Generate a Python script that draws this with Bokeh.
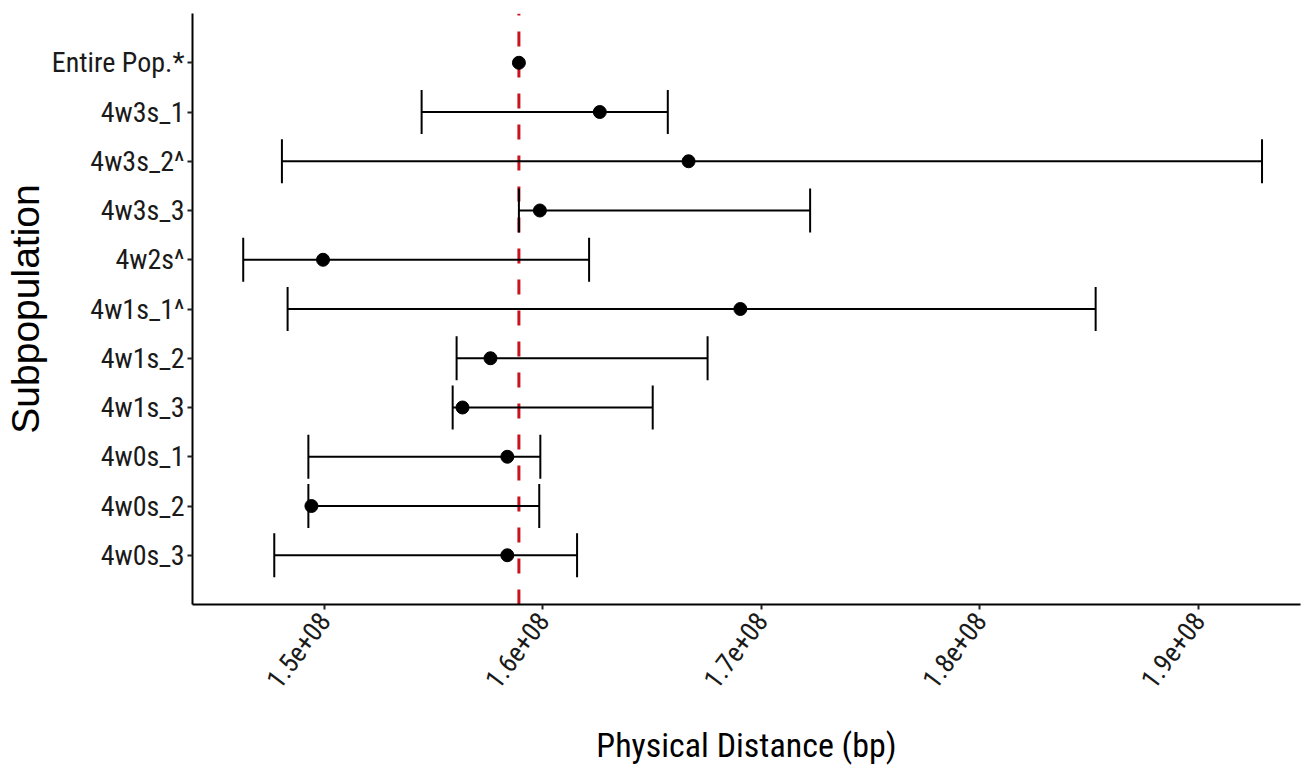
import math
from bokeh.plotting import figure
from bokeh.models import FixedTicker, ColumnDataSource, Whisker, TeeHead
from bokeh.embed import file_html
from bokeh.resources import INLINE

# ---- data (top to bottom as shown) ----
categories = ["Entire Pop.*", "4w3s_1", "4w3s_2^", "4w3s_3", "4w2s^", "4w1s_1^",
              "4w1s_2", "4w1s_3", "4w0s_1", "4w0s_2", "4w0s_3"]
estimate = [1.5891e8, 1.6261e8, 1.6667e8, 1.5987e8, 1.4995e8, 1.6904e8,
            1.5761e8, 1.5633e8, 1.5838e8, 1.4942e8, 1.5838e8]
lower = [float("nan"), 1.5446e8, 1.4807e8, 1.5891e8, 1.4630e8, 1.4833e8,
         1.5606e8, 1.5588e8, 1.4928e8, 1.4928e8, 1.4772e8]
upper = [float("nan"), 1.6572e8, 1.9290e8, 1.7223e8, 1.6212e8, 1.8529e8,
         1.6754e8, 1.6503e8, 1.5989e8, 1.5984e8, 1.6157e8]
reference_value = 1.5891e8
x_ticks = [1.5e8, 1.6e8, 1.7e8, 1.8e8, 1.9e8]
x_tick_labels = ["1.5e+08", "1.6e+08", "1.7e+08", "1.8e+08", "1.9e+08"]

n = len(categories)
ypos = [n - i for i in range(n)]

p = figure(width=1301, height=768, output_backend="svg", toolbar_location=None,
           x_range=(1.4398e8, 1.9466e8), y_range=(0, n + 1),
           min_border_left=189, min_border_right=1, min_border_top=13,
           min_border_bottom=164)
p.outline_line_color = None
p.grid.visible = False
p.background_fill_color = "white"
p.border_fill_color = "white"

# error bars
eb = ColumnDataSource(dict(y=[ypos[i] for i in range(n) if not math.isnan(lower[i])],
                           lo=[lower[i] for i in range(n) if not math.isnan(lower[i])],
                           hi=[upper[i] for i in range(n) if not math.isnan(lower[i])]))
w = Whisker(base="y", lower="lo", upper="hi", dimension="width", source=eb,
            line_color="black", line_width=2,
            lower_head=TeeHead(size=44, line_color="black", line_width=2),
            upper_head=TeeHead(size=44, line_color="black", line_width=2),
            level="glyph")
p.add_layout(w)

# reference dashed line
p.segment(x0=[reference_value], y0=[0], x1=[reference_value], y1=[n + 1],
          line_color="#c8141e", line_width=3, line_dash="15 16")

# points
p.scatter(x=estimate, y=ypos, size=13, color="black", marker="circle")

# axes
p.xaxis.ticker = FixedTicker(ticks=x_ticks)
p.xaxis.major_label_overrides = {t: l for t, l in zip(x_ticks, x_tick_labels)}
p.xaxis.major_label_orientation = math.radians(53)
p.yaxis.ticker = FixedTicker(ticks=ypos)
p.yaxis.major_label_overrides = {y: c for y, c in zip(ypos, categories)}

for ax in (p.xaxis, p.yaxis):
    ax.axis_line_color = "black"
    ax.axis_line_width = 2
    ax.major_tick_line_color = "#222222"
    ax.major_tick_line_width = 2
    ax.major_tick_out = 5
    ax.major_tick_in = 0
    ax.minor_tick_line_color = None
    ax.major_label_text_color = "#1a1a1a"

p.yaxis.major_label_text_font = "Roboto Condensed"
p.yaxis.major_label_text_font_size = "28px"
p.yaxis.major_label_standoff = 3
p.xaxis.major_label_text_font = "Roboto Condensed"
p.xaxis.major_label_text_font_size = "27px"
p.xaxis.major_label_standoff = 6

p.xaxis.axis_label = "Physical Distance (bp)"
p.xaxis.axis_label_text_font = "Roboto Condensed"
p.xaxis.axis_label_text_font_size = "34px"
p.xaxis.axis_label_text_font_style = "normal"
p.xaxis.axis_label_text_color = "black"
p.xaxis.axis_label_standoff = 25

p.yaxis.axis_label = "Subpopulation"
p.yaxis.axis_label_text_font = "Liberation Sans"
p.yaxis.axis_label_text_font_size = "39px"
p.yaxis.axis_label_text_font_style = "normal"
p.yaxis.axis_label_text_color = "black"
p.yaxis.axis_label_standoff = 2

open("out.html", "w").write(file_html(p, INLINE))
